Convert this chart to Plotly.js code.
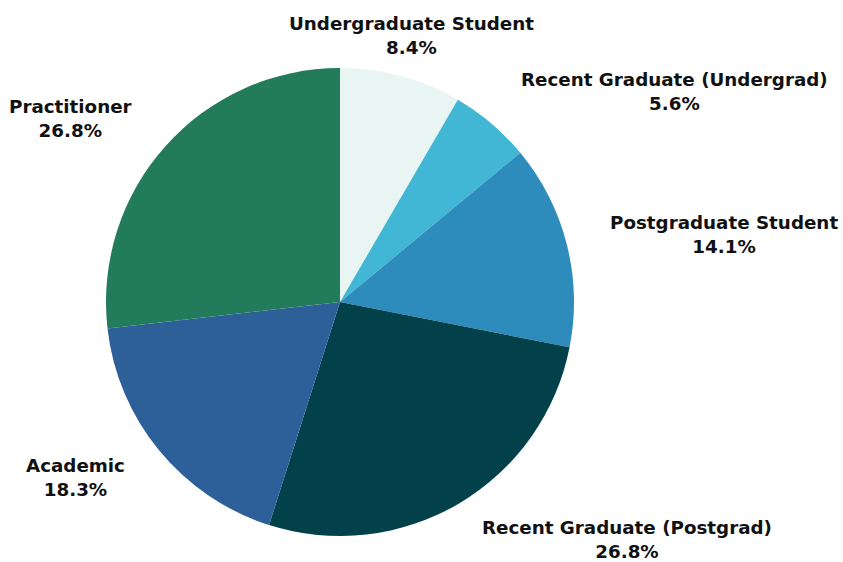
<!DOCTYPE html>
<html>
<head>
<meta charset="utf-8">
<script src="https://cdn.plot.ly/plotly-3.0.1.min.js"></script>
<style>html,body{margin:0;padding:0;background:#fff}#chart{width:843px;height:562px}</style>
</head>
<body>
<div id="chart"></div>
<script>
const categories = ["Undergraduate Student", "Recent Graduate (Undergrad)", "Postgraduate Student", "Recent Graduate (Postgrad)", "Academic", "Practitioner"];
const values = [8.4, 5.6, 14.1, 26.8, 18.3, 26.8];
const colors = ["#e8f5f2", "#42b7d5", "#2e8cbd", "#03414a", "#2d5f99", "#227b5b"];

const W = 843, H = 562;
const CX = 340, CY = 302, R = 234, LABEL_R = 276;

const total = values.reduce((a, b) => a + b, 0);
const annotations = [];
let cum = 0;
values.forEach((v, i) => {
  const mid = (cum + v / 2) / total * 2 * Math.PI;
  cum += v;
  const s = Math.sin(mid), c = Math.cos(mid);
  const px = CX + LABEL_R * s, py = CY - LABEL_R * c;
  annotations.push({
    x: px / W, y: 1 - py / H, xref: "paper", yref: "paper",
    xanchor: s > 0.35 ? "left" : (s < -0.35 ? "right" : "center"),
    yanchor: "middle", showarrow: false, align: "center",
    text: categories[i] + "<br>" + v.toFixed(1) + "%",
    font: {family: "DejaVu Sans", size: 18.3, color: "#111", weight: 700}
  });
});

const data = [{
  type: "pie",
  labels: categories,
  values: values,
  sort: false,
  direction: "clockwise",
  rotation: 0,
  marker: {colors: colors, line: {width: 0}},
  textinfo: "none",
  hoverinfo: "label+percent",
  domain: {x: [(CX - R) / W, (CX + R) / W], y: [1 - (CY + R) / H, 1 - (CY - R) / H]}
}];

const layout = {
  width: W, height: H,
  margin: {l: 0, r: 0, t: 0, b: 0},
  showlegend: false,
  paper_bgcolor: "#fff",
  annotations: annotations
};

Plotly.newPlot("chart", data, layout, {displayModeBar: false, staticPlot: true});
</script>
</body>
</html>
